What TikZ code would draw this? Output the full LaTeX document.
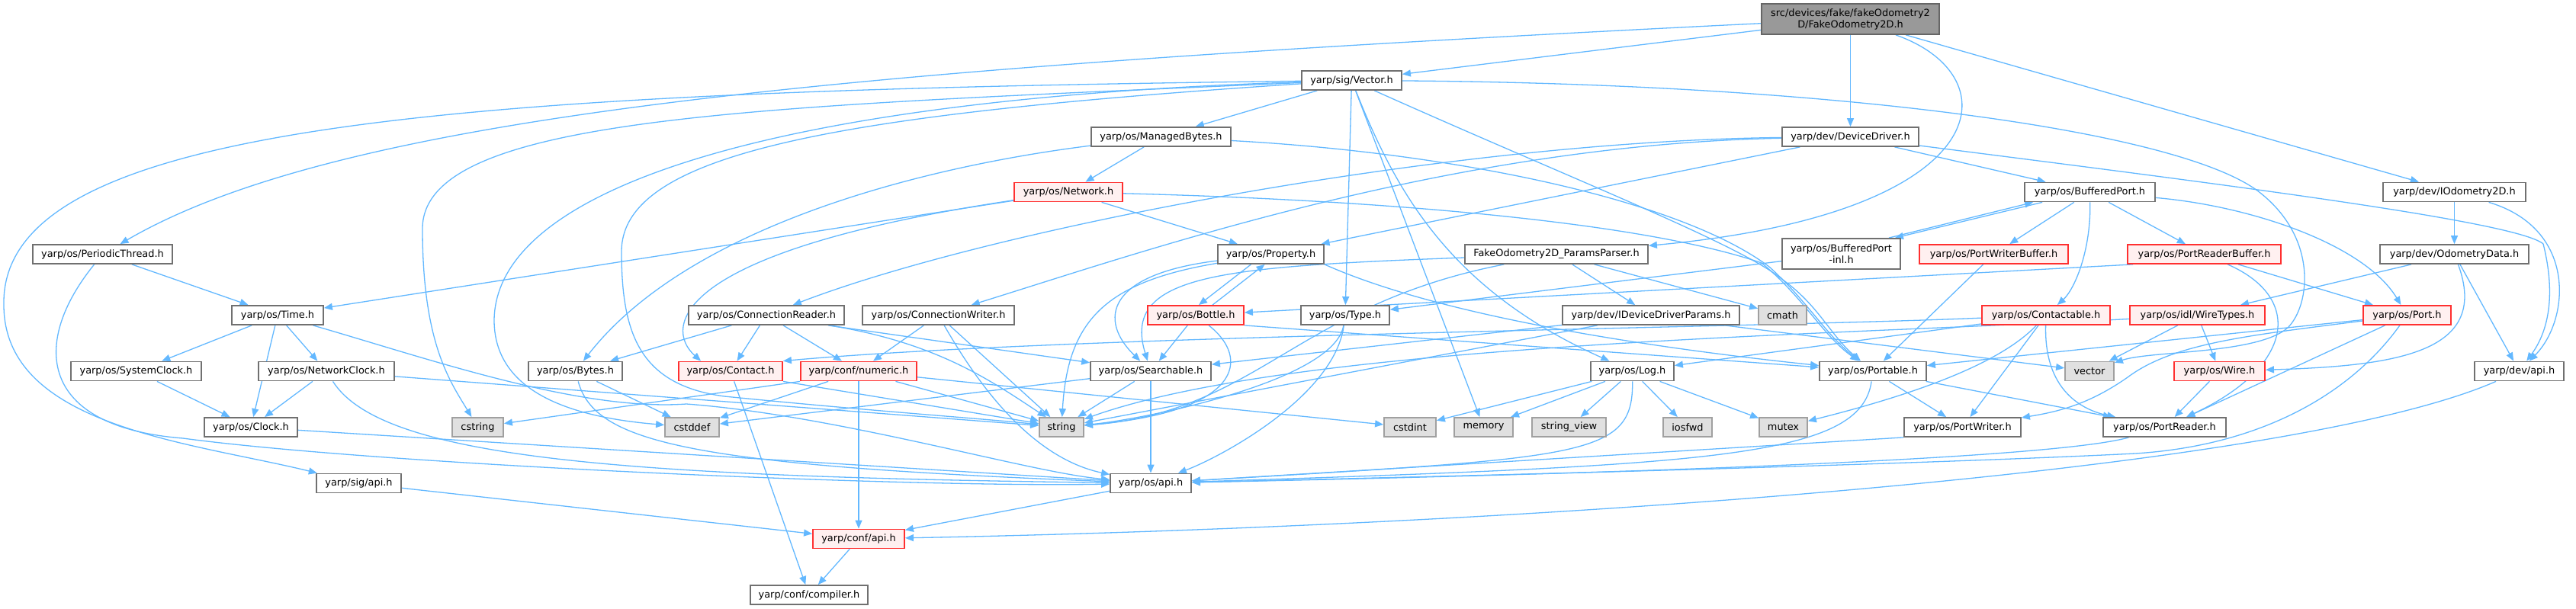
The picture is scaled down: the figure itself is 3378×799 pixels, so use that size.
\documentclass[tikz,border=0pt]{standalone}
\usepackage{fontspec}
\setmainfont{DejaVu Sans}
\usetikzlibrary{arrows.meta}
\definecolor{edgec}{HTML}{63B8FF}
\definecolor{bordc}{HTML}{707070}
\definecolor{redc}{HTML}{FF3030}
\definecolor{redf}{HTML}{FFF0F0}
\definecolor{grayb}{HTML}{A0A0A0}
\definecolor{grayf}{HTML}{E0E0E0}
\definecolor{topf}{HTML}{999999}
\definecolor{topb}{HTML}{666666}
\pgfdeclarelayer{bg}
\pgfsetlayers{bg,main}
\begin{document}
\begin{tikzpicture}[x=1pt,y=-1pt,
  nb/.style={draw=bordc, fill=white, line width=1.8pt, inner sep=0pt, minimum height=25pt,
    font=\fontsize{12.9pt}{15pt}\selectfont, align=center},
  rd/.style={nb, draw=redc, fill=redf},
  gy/.style={nb, draw=grayb, fill=grayf},
  tp/.style={nb, draw=topb, fill=topf, minimum height=40pt},
  e/.style={draw=edgec, line width=1.3pt, -{Triangle[length=11pt,width=9pt]}}]
\useasboundingbox (0,0) rectangle (3378,799);
% ---------------- nodes
\node[tp, minimum width=233pt] (top) at (2426.5,25) {src/devices/fake/fakeOdometry2\\D/FakeOdometry2D.h};
\node[nb, minimum width=131pt] (vec) at (1772.5,105.5) {yarp/sig/Vector.h};
\node[nb, minimum width=183pt] (mb) at (1522.5,179.5) {yarp/os/ManagedBytes.h};
\node[nb, minimum width=179pt] (dd) at (2426.5,179.5) {yarp/dev/DeviceDriver.h};
\node[rd, minimum width=142pt] (net) at (1401,252) {yarp/os/Network.h};
\node[nb, minimum width=171pt] (bp) at (2740.5,252) {yarp/os/BufferedPort.h};
\node[nb, minimum width=187pt] (iod) at (3218.5,252) {yarp/dev/IOdometry2D.h};
\node[nb, minimum width=183pt] (pt) at (134.5,333.5) {yarp/os/PeriodicThread.h};
\node[nb, minimum width=139pt] (prop) at (1666.5,333.5) {yarp/os/Property.h};
\node[nb, minimum width=240pt] (pp) at (2041,333.5) {FakeOdometry2D\_ParamsParser.h};
\node[nb, minimum width=155pt, minimum height=40pt] (bpi) at (2414.5,333) {yarp/os/BufferedPort\\-inl.h};
\node[rd, minimum width=195pt] (pwb) at (2614.5,333.5) {yarp/os/PortWriterBuffer.h};
\node[rd, minimum width=201pt] (prb) at (2890.5,333.5) {yarp/os/PortReaderBuffer.h};
\node[nb, minimum width=195pt] (od) at (3218.5,333.5) {yarp/dev/OdometryData.h};
\node[nb, minimum width=120pt] (time) at (364,413.5) {yarp/os/Time.h};
\node[nb, minimum width=204pt] (cr) at (1005,413.5) {yarp/os/ConnectionReader.h};
\node[nb, minimum width=199pt] (cw) at (1230.5,413.5) {yarp/os/ConnectionWriter.h};
\node[rd, minimum width=126pt] (bot) at (1568,413.5) {yarp/os/Bottle.h};
\node[nb, minimum width=116pt] (typ) at (1764,413.5) {yarp/os/Type.h};
\node[nb, minimum width=232pt] (iddp) at (2165,413.5) {yarp/dev/IDeviceDriverParams.h};
\node[gy, minimum width=63pt] (cmath) at (2337.5,413.5) {cmath};
\node[rd, minimum width=168pt] (ctb) at (2683,413.5) {yarp/os/Contactable.h};
\node[rd, minimum width=177pt] (wt) at (2881.5,413.5) {yarp/os/idl/WireTypes.h};
\node[rd, minimum width=115pt] (port) at (3156.5,413.5) {yarp/os/Port.h};
\node[nb, minimum width=171pt] (sc) at (178.5,487) {yarp/os/SystemClock.h};
\node[nb, minimum width=178pt] (nc) at (428,487) {yarp/os/NetworkClock.h};
\node[nb, minimum width=123pt] (byt) at (754.5,487) {yarp/os/Bytes.h};
\node[rd, minimum width=136pt] (con) at (958,487) {yarp/os/Contact.h};
\node[rd, minimum width=152pt] (num) at (1126,487) {yarp/conf/numeric.h};
\node[nb, minimum width=158pt] (srch) at (1509,487) {yarp/os/Searchable.h};
\node[nb, minimum width=109pt] (log) at (2140.5,487) {yarp/os/Log.h};
\node[nb, minimum width=140pt] (ptb) at (2456,487) {yarp/os/Portable.h};
\node[gy, minimum width=64pt] (stdvec) at (2740,487) {vector};
\node[rd, minimum width=119pt] (wire) at (2910.5,487) {yarp/os/Wire.h};
\node[nb, minimum width=117pt] (devapi) at (3303.5,487) {yarp/dev/api.h};
\node[nb, minimum width=122pt] (clk) at (329,560.5) {yarp/os/Clock.h};
\node[gy, minimum width=67pt] (cstr) at (626.5,560.5) {cstring};
\node[gy, minimum width=71pt] (cstdd) at (907.5,560.5) {cstddef};
\node[gy, minimum width=58pt] (str) at (1392,560.5) {string};
\node[gy, minimum width=68pt] (cint) at (1849,560.5) {cstdint};
\node[gy, minimum width=77pt] (mem) at (1945.5,560.5) {memory};
\node[gy, minimum width=97pt] (sv) at (2057.5,560.5) {string\_view};
\node[gy, minimum width=64pt] (iosf) at (2213,560.5) {iosfwd};
\node[gy, minimum width=63pt] (mtx) at (2338.5,560.5) {mutex};
\node[nb, minimum width=153pt] (pw) at (2573.5,560.5) {yarp/os/PortWriter.h};
\node[nb, minimum width=161pt] (pr) at (2838.5,560.5) {yarp/os/PortReader.h};
\node[nb, minimum width=111pt] (sigapi) at (470.5,634) {yarp/sig/api.h};
\node[nb, minimum width=106pt] (osapi) at (1509,634) {yarp/os/api.h};
\node[rd, minimum width=120pt] (capi) at (1126,707) {yarp/conf/api.h};
\node[nb, minimum width=154pt] (comp) at (1061,780.5) {yarp/conf/compiler.h};
% ---------------- edges
\begin{pgfonlayer}{bg}
% top
\draw[e] (top) .. controls (1100,90) and (450,150) .. (pt);
\draw[e] (top) -- (vec);
\draw[e] (top) -- (dd);
\draw[e] (top) .. controls (2640,100) and (2620,280) .. (pp);
\draw[e] (top) -- (iod);
% Vector
\draw[e] (vec) .. controls (600,120) and (0,160) .. (5,400) .. controls (5,560) and (250,580) .. (sigapi);
\draw[e] (vec) .. controls (1000,140) and (554,150) .. (554,300) .. controls (554,450) and (590,500) .. (cstr);
\draw[e] (vec) .. controls (1000,130) and (650,250) .. (648,420) .. controls (648,500) and (720,545) .. (cstdd);
\draw[e] (vec) .. controls (1100,150) and (815,200) .. (815,330) .. controls (815,440) and (840,505) .. (950,520) .. controls (1150,540) and (1300,550) .. (str);
\draw[e] (vec) -- (mb);
\draw[e] (vec) -- (typ);
\draw[e] (vec) -- (mem);
\draw[e] (vec) .. controls (1830,250) and (1900,380) .. (log);
\draw[e] (vec) .. controls (2050,230) and (2280,320) .. (2335,365) .. controls (2385,400) and (2400,440) .. (ptb);
\draw[e] (vec) .. controls (2400,110) and (2850,170) .. (2960,250) .. controls (3040,310) and (3030,400) .. (3000,430) .. controls (2960,465) and (2820,460) .. (stdvec);
% ManagedBytes
\draw[e] (mb) -- (net);
\draw[e] (mb) .. controls (1200,220) and (900,300) .. (byt);
\draw[e] (mb) .. controls (1900,200) and (2200,260) .. (2320,350) .. controls (2370,395) and (2395,440) .. (ptb);
% DeviceDriver
\draw[e] (dd) .. controls (1900,185) and (1300,300) .. (cr);
\draw[e] (dd) .. controls (1900,190) and (1500,330) .. (cw);
\draw[e] (dd) -- (prop);
\draw[e] (dd) -- (bp);
\draw[e] (dd) .. controls (2900,240) and (3300,290) .. (3335,320) .. controls (3350,380) and (3345,430) .. (devapi);
% Network
\draw[e] (net) -- (time);
\draw[e] (net) .. controls (880,330) and (870,430) .. ([xshift=30pt]con.north west);
\draw[e] (net) -- (prop);
\draw[e] (net) .. controls (1800,262) and (2150,290) .. (2310,345) .. controls (2365,390) and (2390,440) .. (ptb);
% BufferedPort
\draw[e] ([xshift=24pt]bp.south west) -- ([xshift=-8pt]bpi.north east);
\draw[e] ([xshift=-16pt]bpi.north east) -- ([xshift=12pt]bp.south west);
\draw[e] (bp) -- (pwb);
\draw[e] (bp) .. controls (2742,330) and (2720,380) .. (ctb);
\draw[e] (bp) -- (prb);
\draw[e] (bp) .. controls (2950,270) and (3100,320) .. (port);
% IOdometry2D
\draw[e] (iod) -- (od);
\draw[e] (iod) .. controls (3380,300) and (3370,420) .. (devapi);
% PeriodicThread
\draw[e] (pt) -- (time);
\draw[e] (pt) .. controls (40,450) and (50,560) .. (240,575) .. controls (500,610) and (1200,640) .. (osapi);
% Property
\draw[e] ([xshift=-26pt]prop.south) -- ([xshift=4pt]bot.north);
\draw[e] ([xshift=22pt]bot.north) -- ([xshift=-8pt]prop.south);
\draw[e] (prop) .. controls (1450,360) and (1440,420) .. (srch);
\draw[e] (prop) .. controls (1450,370) and (1400,420) .. (str);
\draw[e] (prop.south east) .. controls (1900,420) and (2200,460) .. (ptb);
% ParamsParser
\draw[e] (pp) .. controls (1600,350) and (1470,360) .. (srch);
\draw[e] (pp) .. controls (1700,400) and (1650,540) .. (str);
\draw[e] (pp) -- (iddp);
\draw[e] (pp) -- (cmath);
% BufferedPort-inl
\draw[e] (bpi) -- (typ);
% PortWriterBuffer / PortReaderBuffer
\draw[e] (pwb) -- (ptb);
\draw[e] ([xshift=8pt]prb.south west) -- (bot);
\draw[e] (prb) -- (port);
\draw[e] (prb) .. controls (3020,390) and (3010,480) .. (pr);
% OdometryData
\draw[e] (od) -- (wt);
\draw[e] (od) .. controls (3265,460) and (3150,480) .. (wire);
\draw[e] (od) -- (devapi);
% Time
\draw[e] (time) -- (sc);
\draw[e] (time) -- (clk);
\draw[e] (time) -- (nc);
\draw[e] (time) .. controls (560,470) and (760,540) .. (900,530) .. controls (1100,545) and (1350,620) .. (osapi);
% ConnectionReader / Writer
\draw[e] (cr) -- (byt);
\draw[e] (cr) -- (con);
\draw[e] (cr) -- (num);
\draw[e] (cr) .. controls (1230,450) and (1300,500) .. (str);
\draw[e] ([xshift=-22pt]cr.south east) -- (srch);
\draw[e] (cw) -- (num);
\draw[e] (cw) -- (str);
\draw[e] (cw) .. controls (1280,500) and (1350,600) .. (osapi);
% Bottle
\draw[e] (bot) -- (srch);
\draw[e] (bot) .. controls (1640,470) and (1630,540) .. (str);
\draw[e] (bot.south east) -- (ptb);
% Type
\draw[e] (typ) .. controls (1750,500) and (1500,550) .. (str);
\draw[e] (typ) .. controls (1750,520) and (1600,600) .. (osapi);
% IDeviceDriverParams
\draw[e] (iddp) -- (str);
\draw[e] ([xshift=-20pt]iddp.south east) -- (stdvec);
\draw[e] (iddp) -- (srch);
% Contactable
\draw[e] (ctb) .. controls (2300,430) and (1400,440) .. (con.north east);
\draw[e] (ctb) -- (pw);
\draw[e] (ctb) .. controls (2680,520) and (2740,540) .. (pr);
\draw[e] (ctb) .. controls (2620,480) and (2500,520) .. (mtx);
\draw[e] (ctb) -- (log);
% WireTypes
\draw[e] (wt) -- (stdvec);
\draw[e] (wt) -- (wire);
\draw[e] (wt) .. controls (2400,440) and (1700,450) .. (str);
% Port
\draw[e] (port) -- (ptb);
\draw[e] (port) .. controls (2950,440) and (2850,450) .. (2790,495) .. controls (2740,530) and (2700,540) .. (pw);
\draw[e] (port) -- (pr);
\draw[e] (port) .. controls (3080,520) and (2960,585) .. (2800,595) .. controls (2500,610) and (1900,625) .. (osapi);
% clocks
\draw[e] (sc) -- (clk);
\draw[e] (nc) -- (clk);
\draw[e] (nc) -- (str);
\draw[e] (nc) .. controls (500,600) and (800,625) .. (osapi);
\draw[e] (clk) -- (osapi);
% Bytes, Contact, numeric
\draw[e] (byt) -- (cstdd);
\draw[e] (byt) .. controls (780,580) and (900,610) .. (osapi);
\draw[e] (con.south east) -- (str);
\draw[e] (con) -- (comp);
\draw[e] (num.south west) -- (cstr);
\draw[e] (num) -- (cstdd);
\draw[e] (num) -- (capi);
\draw[e] (num) -- (str);
\draw[e] (num) -- (cint);
% Searchable
\draw[e] (srch) -- (str);
\draw[e] (srch) -- (osapi);
\draw[e] (srch) -- (cstdd);
% Log
\draw[e] (log) -- (cint);
\draw[e] (log) -- (mem);
\draw[e] (log) -- (sv);
\draw[e] (log) -- (iosf);
\draw[e] (log) -- (mtx);
\draw[e] (log) .. controls (2142,600) and (2080,600) .. (osapi);
% Portable
\draw[e] (ptb) -- (pw);
\draw[e] (ptb) -- (pr);
\draw[e] (ptb) .. controls (2440,600) and (2250,610) .. (osapi);
% Wire
\draw[e] (wire) -- (pr);
% api
\draw[e] (devapi) .. controls (3000,620) and (2000,690) .. (capi);
\draw[e] (pw.south west) -- (osapi);
\draw[e] (pr) .. controls (2700,600) and (2200,620) .. (osapi);
\draw[e] (sigapi) -- (capi);
\draw[e] (osapi) -- (capi);
\draw[e] (capi) -- (comp);
\end{pgfonlayer}
\end{tikzpicture}
\end{document}
